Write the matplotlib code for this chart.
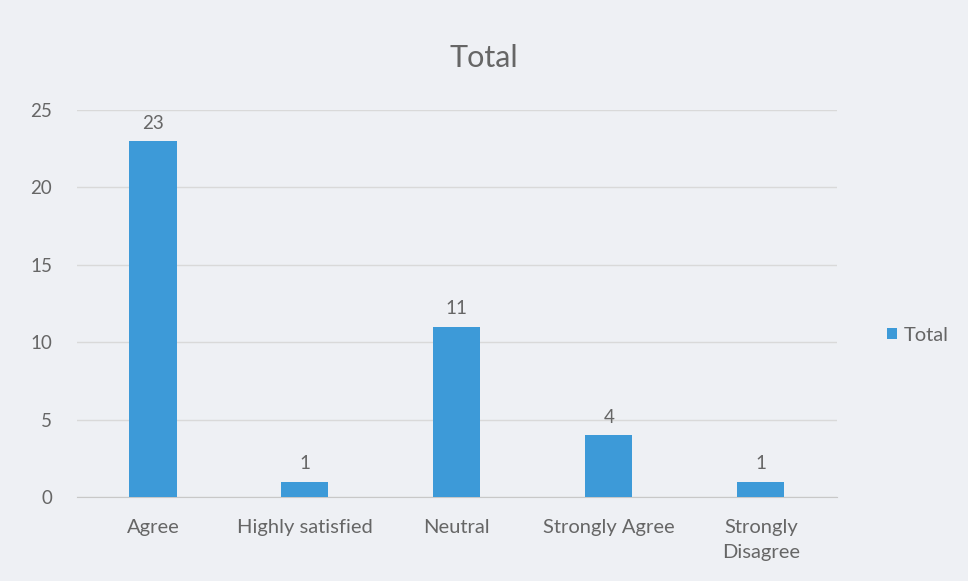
import matplotlib.pyplot as plt

categories = ["Agree", "Highly satisfied", "Neutral", "Strongly Agree", "Strongly\nDisagree"]
totals = [23, 1, 11, 4, 1]
y_ticks = [0, 5, 10, 15, 20, 25]

plt.rcParams['font.family'] = ['Lato', 'DejaVu Sans']
text_color = "#666666"
bg = "#eef0f4"

fig = plt.figure(figsize=(9.68, 5.81), dpi=100, facecolor=bg)
ax = fig.add_axes([0.0795, 0.1446, 0.785, 0.666], facecolor=bg)

x = range(len(categories))
bars = ax.bar(x, totals, width=0.31, color="#3d9ad8", label="Total", zorder=3)
for rect, v in zip(bars, totals):
    ax.text(rect.get_x() + rect.get_width() / 2, v + 0.6, str(v),
            ha="center", va="bottom", fontsize=13.5, color=text_color)

ax.set_xlim(-0.5, len(categories) - 0.5)
ax.set_ylim(0, 25)
ax.set_yticks(y_ticks)
ax.set_xticks(list(x))
ax.set_xticklabels(categories, fontsize=14.5, color=text_color, va="top", linespacing=1.55)
ax.tick_params(axis="y", labelsize=13.5, labelcolor=text_color, length=0, pad=18)
ax.tick_params(axis="x", length=0, pad=16)
ax.grid(axis="y", color="#d9d9d9", linewidth=1, zorder=0)
for s in ["top", "right", "left"]:
    ax.spines[s].set_visible(False)
ax.spines["bottom"].set_color("#c8c8c8")

fig.text(0.5, 0.9, "Total", ha="center", va="center", fontsize=22, color=text_color)
fig.legend(loc="center left", bbox_to_anchor=(0.898, 0.423), frameon=False,
           fontsize=14.5, labelcolor=text_color, handlelength=0.5, handleheight=0.5,
           handletextpad=0.3)

fig.savefig("out.png", dpi=100, facecolor=bg)
